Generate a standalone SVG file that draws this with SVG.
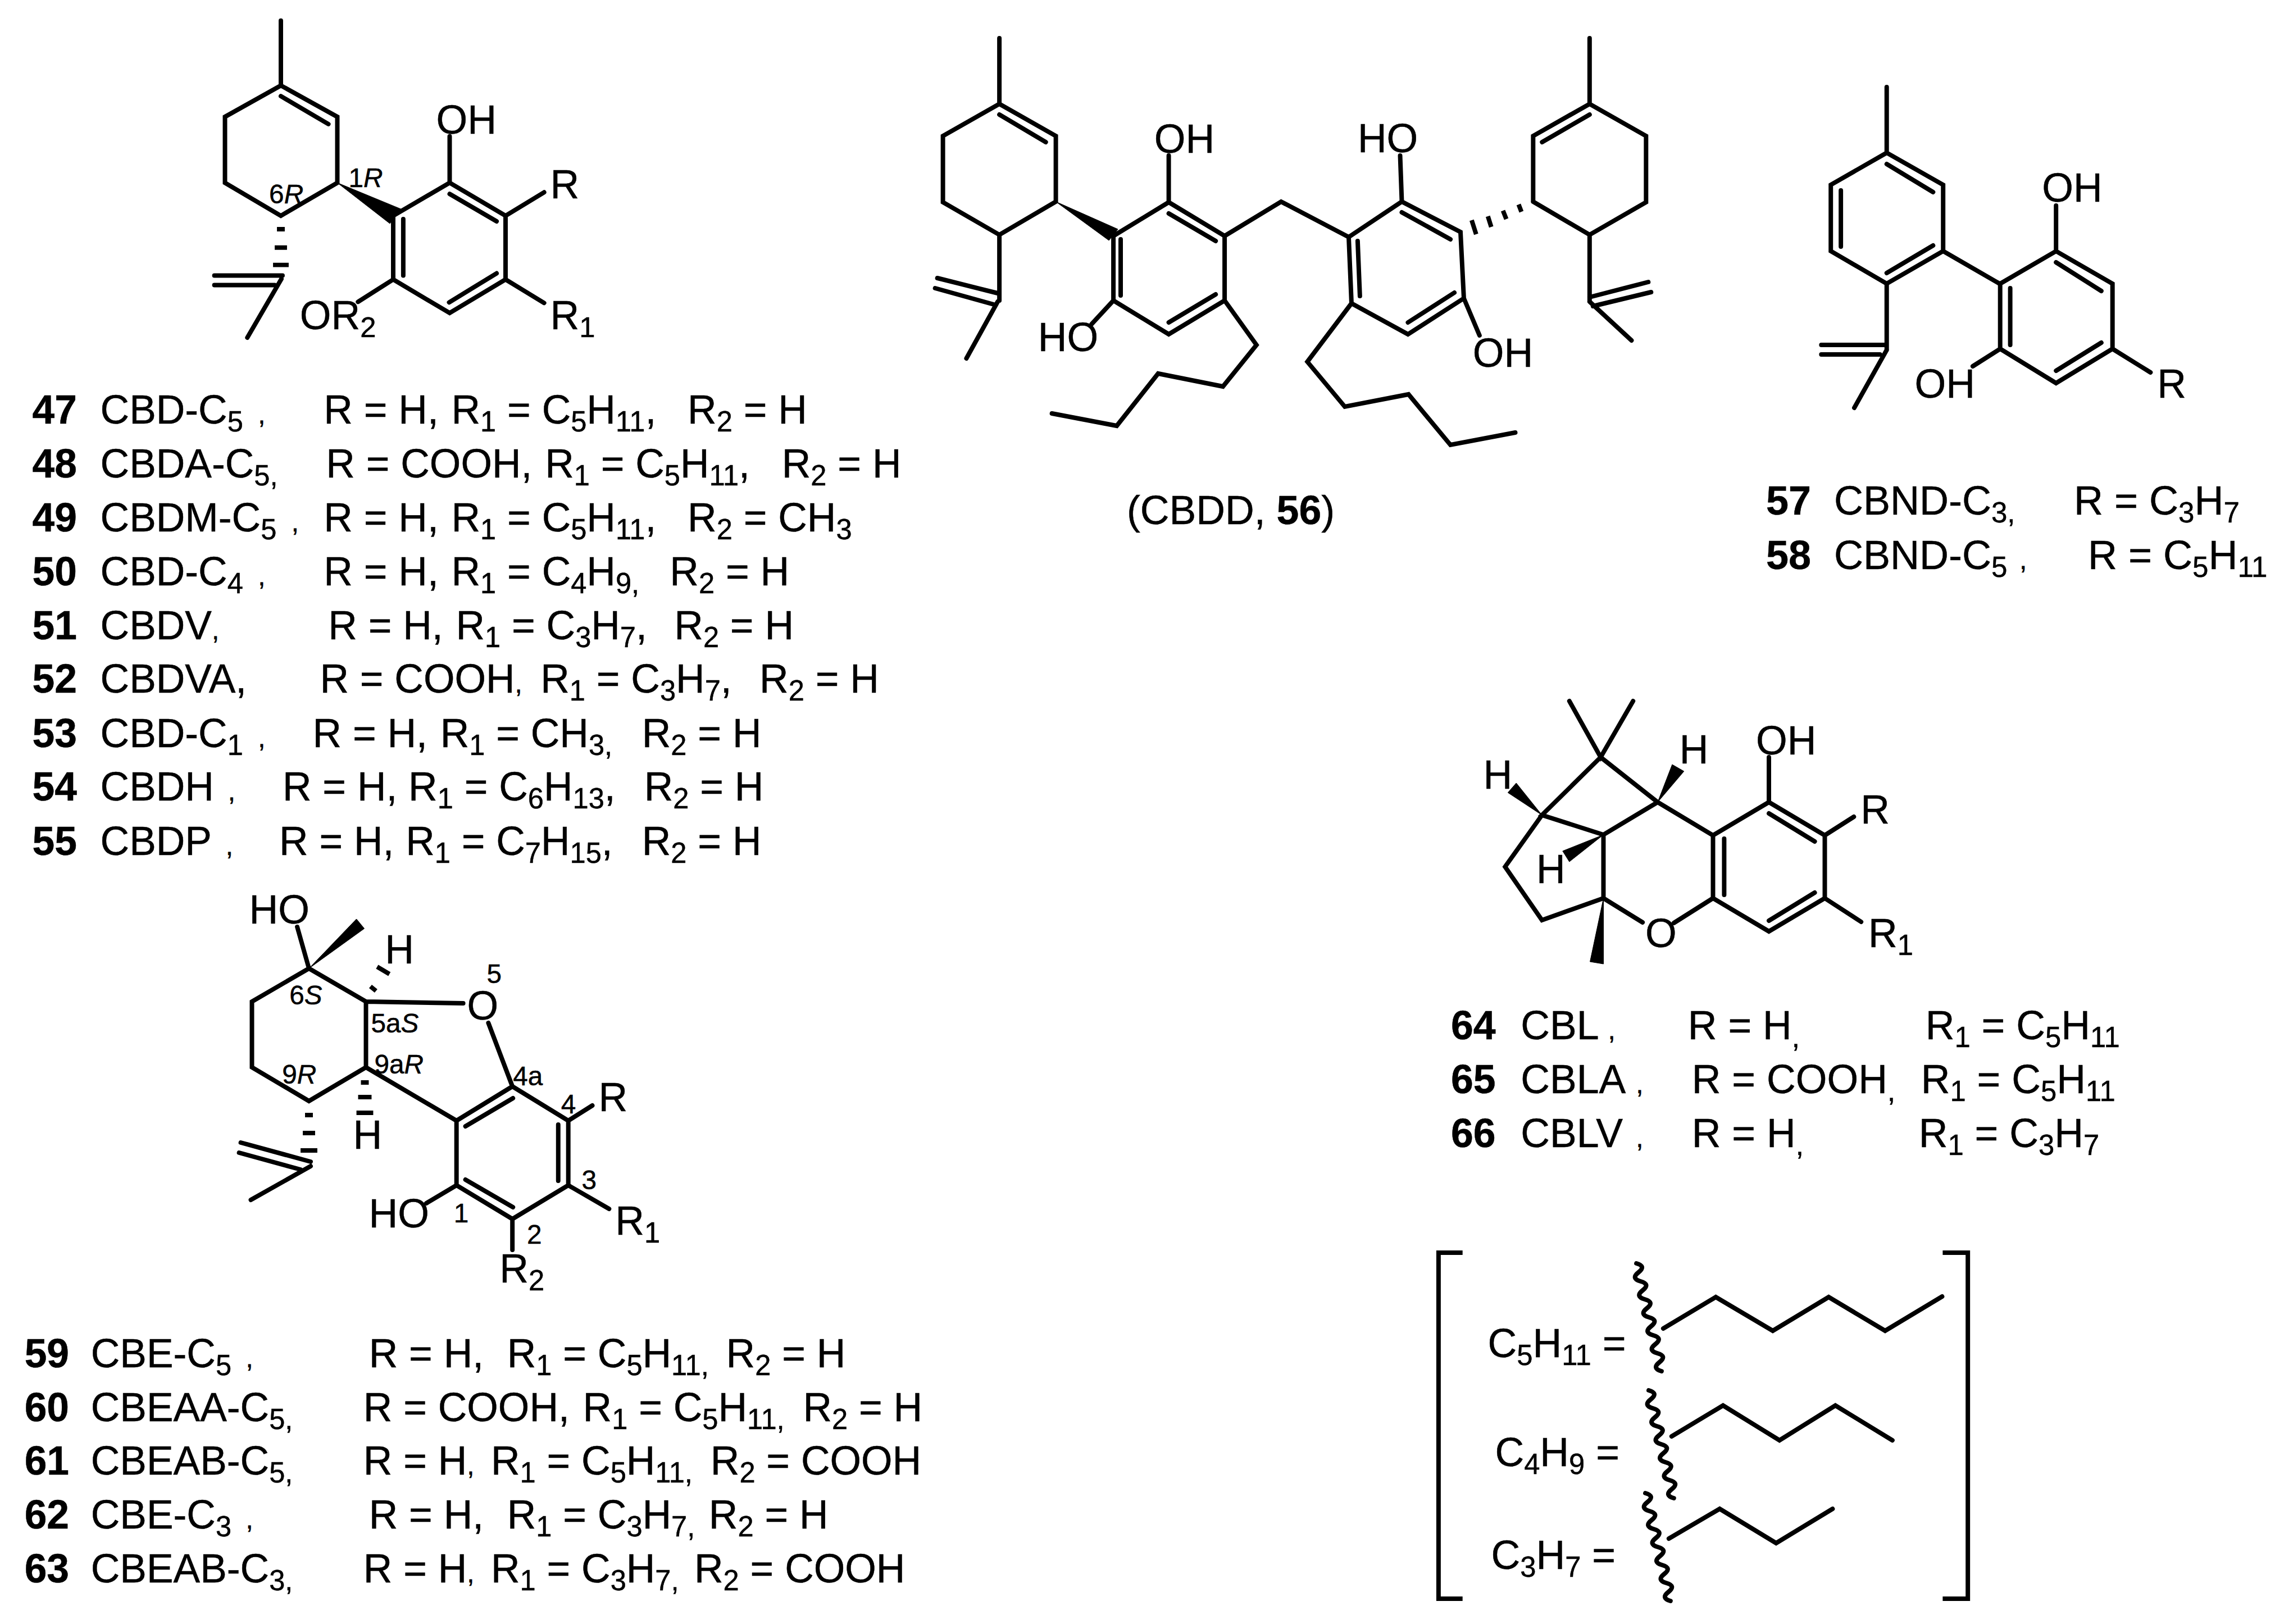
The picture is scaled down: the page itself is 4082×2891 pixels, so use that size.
<svg xmlns="http://www.w3.org/2000/svg" xmlns:xlink="http://www.w3.org/1999/xlink" width="4082" height="2891" viewBox="0 0 4082 2891">
<style>
.b{fill:none;stroke:#000;stroke-width:8;stroke-linecap:round;stroke-linejoin:miter}
.h{fill:none;stroke:#000;stroke-width:8}
.w{fill:#000;stroke:#000;stroke-width:1}
text{font-family:"Liberation Sans",Arial,sans-serif;font-size:72px;fill:#000;stroke:#000;stroke-width:.5}
.n{font-weight:bold}
.s{font-size:51px;baseline-shift:-14px}
.l{font-size:48px}
.i{font-style:italic}
</style>
<defs>
<path id="wave" class="b" d="M0,0q17.9,5 3.75,16q-14.1,11 3.75,16q17.9,5 3.75,16q-14.1,11 3.75,16q17.9,5 3.75,16q-14.1,11 3.75,16q17.9,5 3.75,16q-14.1,11 3.75,16q17.9,5 3.75,16q-14.1,11 3.75,16q17.9,5 3.75,16q-14.1,11 3.75,16"/>
</defs>
<rect width="4082" height="2891" fill="#fff"/>

<g id="cbd-structure" transform="matrix(.995 0 0 .995 1.5 0)">
<path class="b" d="M501,37V153L602,209V327L501,386L401,327V209L501,153M501,172L586,222"/>
<path class="w" d="M602,327L716,374L696,400Z"/>
<path class="b" d="M702,386L803,327L903,386V500L803,560L702,500V386M803,347L887,396M720,392V493M802,541L887,489M803,327V244M903,386L972,344M903,500L972,542M702,500L639,540"/>
<path class="h" d="M494,410H508M490,443H512M487,474H515"/>
<path class="b" d="M382,493H504M382,510H490M502,499L441,604"/>
<text x="779" y="239">OH</text><text x="983" y="355">R</text>
<text x="983" y="589">R<tspan class="s">1</tspan></text>
<text x="535" y="589">OR<tspan class="s">2</tspan></text>
<text class="l" x="622" y="335">1<tspan class="i">R</tspan></text>
<text class="l" x="480" y="364">6<tspan class="i">R</tspan></text>
</g>

<g id="cbd-table" transform="matrix(.992 0 0 1 0 0)">
<text y="754"><tspan class="n" x="58">47</tspan><tspan x="180">CBD-C<tspan class="s">5</tspan></tspan><tspan class="l" x="463">,</tspan><tspan x="581">R = H,</tspan><tspan x="810">R<tspan class="s">1</tspan> = C<tspan class="s">5</tspan>H<tspan class="s">11</tspan>,</tspan><tspan x="1234">R<tspan class="s">2</tspan> = H</tspan></text>
<text y="850"><tspan class="n" x="58">48</tspan><tspan x="180">CBDA-C<tspan class="s">5,</tspan></tspan><tspan x="585">R = COOH,</tspan><tspan x="978">R<tspan class="s">1</tspan> = C<tspan class="s">5</tspan>H<tspan class="s">11</tspan>,</tspan><tspan x="1403">R<tspan class="s">2</tspan> = H</tspan></text>
<text y="946"><tspan class="n" x="58">49</tspan><tspan x="180">CBDM-C<tspan class="s">5</tspan></tspan><tspan class="l" x="523">,</tspan><tspan x="581">R = H,</tspan><tspan x="810">R<tspan class="s">1</tspan> = C<tspan class="s">5</tspan>H<tspan class="s">11</tspan>,</tspan><tspan x="1234">R<tspan class="s">2</tspan> = CH<tspan class="s">3</tspan></tspan></text>
<text y="1042"><tspan class="n" x="58">50</tspan><tspan x="180">CBD-C<tspan class="s">4</tspan></tspan><tspan class="l" x="463">,</tspan><tspan x="581">R = H,</tspan><tspan x="810">R<tspan class="s">1</tspan> = C<tspan class="s">4</tspan>H<tspan class="s">9,</tspan></tspan><tspan x="1202">R<tspan class="s">2</tspan> = H</tspan></text>
<text y="1138"><tspan class="n" x="58">51</tspan><tspan x="180">CBDV<tspan class="l">,</tspan></tspan><tspan x="589">R = H,</tspan><tspan x="818">R<tspan class="s">1</tspan> = C<tspan class="s">3</tspan>H<tspan class="s">7</tspan>,</tspan><tspan x="1210">R<tspan class="s">2</tspan> = H</tspan></text>
<text y="1233"><tspan class="n" x="58">52</tspan><tspan x="180">CBDVA,</tspan><tspan x="574">R = COOH<tspan class="l">,</tspan></tspan><tspan x="970">R<tspan class="s">1</tspan> = C<tspan class="s">3</tspan>H<tspan class="s">7</tspan>,</tspan><tspan x="1363">R<tspan class="s">2</tspan> = H</tspan></text>
<text y="1330"><tspan class="n" x="58">53</tspan><tspan x="180">CBD-C<tspan class="s">1</tspan></tspan><tspan class="l" x="463">,</tspan><tspan x="561">R = H,</tspan><tspan x="790">R<tspan class="s">1</tspan> = CH<tspan class="s">3,</tspan></tspan><tspan x="1152">R<tspan class="s">2</tspan> = H</tspan></text>
<text y="1425"><tspan class="n" x="58">54</tspan><tspan x="180">CBDH</tspan><tspan class="l" x="409">,</tspan><tspan x="507">R = H,</tspan><tspan x="733">R<tspan class="s">1</tspan> = C<tspan class="s">6</tspan>H<tspan class="s">13</tspan>,</tspan><tspan x="1156">R<tspan class="s">2</tspan> = H</tspan></text>
<text y="1522"><tspan class="n" x="58">55</tspan><tspan x="180">CBDP</tspan><tspan class="l" x="405">,</tspan><tspan x="501">R = H,</tspan><tspan x="728">R<tspan class="s">1</tspan> = C<tspan class="s">7</tspan>H<tspan class="s">15</tspan>,</tspan><tspan x="1152">R<tspan class="s">2</tspan> = H</tspan></text>
</g>

<g id="cbdd-structure" transform="matrix(.995 0 0 1 8 0)">
<path class="b" d="M1780,68V185L1881,242V359L1780,418L1679,360V242L1780,185M1780,204L1863,253M1780,418V535M1669,495L1777,522M1665,513L1770,542M1777,537L1721,638"/>
<path class="w" d="M1881,359L1992,408L1976,428Z"/>
<path class="b" d="M1984,420L2083,360L2183,420V535L2083,595L1984,535V420M2083,380L2167,429M1997,426V526M2083,574L2167,524M2083,359V277M1984,535L1945,577M2183,420L2284,359L2405,422M2183,535L2240,614L2180,688L2064,665L1990,758L1874,736"/>
<path class="b" d="M2405,422L2500,359L2605,413L2611,531L2511,595L2410,540L2405,422M2500,378L2587,426M2421,429L2425,527M2511,574L2594,521M2500,359L2497,277M2611,531L2639,597M2410,540L2331,644L2398,724L2512,702L2587,792L2703,770"/>
<path class="h" d="M2625,392L2633,417M2654,385L2660,404M2681,375L2687,390M2709,364L2714,377"/>
<path class="b" d="M2735,359V242L2836,185L2937,242V360L2836,418L2735,359M2836,68V185M2836,204L2751,253M2836,418V535M2836,529L2941,502M2842,545L2946,520M2836,537L2911,606"/>
<text x="2057" y="272">OH</text><text x="1849" y="625">HO</text><text x="2421" y="271">HO</text><text x="2627" y="653">OH</text>
<text x="2008" y="933">(CBDD, <tspan class="n">56</tspan>)</text>
</g>

<g id="cbnd-structure" transform="matrix(.995 0 0 1 15.5 0)">
<path class="b" d="M3360,155V272L3461,329V447L3360,505L3260,447V329L3360,272M3360,292L3443,342M3278,339V439M3443,437L3360,486M3461,447L3562,505"/>
<path class="b" d="M3563,505L3663,447L3764,505V621L3663,682L3563,621V505M3663,467L3744,518M3581,513V614M3663,660L3744,610M3663,447V366M3563,621L3514,652M3764,621L3832,663M3360,505V623M3243,614H3357M3243,631H3348M3360,623L3302,726"/>
<text x="3638" y="359">OH</text><text x="3410" y="708">OH</text><text x="3844" y="708">R</text>
</g>

<g id="cbnd-table" transform="translate(-5 0)">
<text y="916"><tspan class="n" x="3149">57</tspan><tspan x="3270">CBND-C<tspan class="s">3,</tspan></tspan><tspan x="3697">R = C<tspan class="s">3</tspan>H<tspan class="s">7</tspan></tspan></text>
<text y="1013"><tspan class="n" x="3149">58</tspan><tspan x="3270">CBND-C<tspan class="s">5</tspan></tspan><tspan class="l" x="3600">,</tspan><tspan x="3722">R = C<tspan class="s">5</tspan>H<tspan class="s">11</tspan></tspan></text>
</g>

<g id="cbe-structure" transform="matrix(.995 0 0 1 1.75 0)">
<path class="b" d="M551,1724L653,1783V1900L551,1960L449,1900V1783L551,1724M551,1724L530,1650M653,1783L827,1786M872,1821L915,1934M653,1900L815,1995L915,1934L1015,1995V2110L915,2170L815,2110V1995M831,2005L916,1955M997,2002V2102M831,2100L916,2149M1015,1995L1058,1968M1015,2110L1088,2152M915,2170V2225M815,2110L761,2142"/>
<path class="w" d="M551,1724L636,1636L650,1653Z"/>
<path class="h" d="M661,1756L671,1764M673,1721L695,1734M644,1927H658M639,1953H663M636,1981H666M544,1985H558M540,2017H562M536,2048H566"/>
<path class="b" d="M429,2034L554,2068M426,2052L536,2082M554,2076L447,2136"/>
<text x="444" y="1644">HO</text><text x="834" y="1815">O</text><text x="687" y="1715">H</text><text x="630" y="2045">H</text>
<text x="1069" y="1978">R</text><text x="1099" y="2198">R<tspan class="s">1</tspan></text><text x="892" y="2283">R<tspan class="s">2</tspan></text><text x="658" y="2185">HO</text>
<text class="l" x="869" y="1750">5</text>
<text class="l" x="516" y="1788">6<tspan class="i">S</tspan></text>
<text class="l" x="662" y="1838">5a<tspan class="i">S</tspan></text>
<text class="l" x="668" y="1911">9a<tspan class="i">R</tspan></text>
<text class="l" x="503" y="1929">9<tspan class="i">R</tspan></text>
<text class="l" x="916" y="1932">4a</text><text class="l" x="1002" y="1982">4</text><text class="l" x="1039" y="2117">3</text><text class="l" x="941" y="2214">2</text><text class="l" x="810" y="2176">1</text>
</g>

<g id="cbe-table" transform="matrix(.992 0 0 1 0 0)">
<text y="2434"><tspan class="n" x="44">59</tspan><tspan x="163">CBE-C<tspan class="s">5</tspan></tspan><tspan class="l" x="441">,</tspan><tspan x="662">R = H,</tspan><tspan x="910">R<tspan class="s">1</tspan> = C<tspan class="s">5</tspan>H<tspan class="s">11,</tspan></tspan><tspan x="1303">R<tspan class="s">2</tspan> = H</tspan></text>
<text y="2530"><tspan class="n" x="44">60</tspan><tspan x="163">CBEAA-C<tspan class="s">5,</tspan></tspan><tspan x="652">R = COOH,</tspan><tspan x="1046">R<tspan class="s">1</tspan> = C<tspan class="s">5</tspan>H<tspan class="s">11,</tspan></tspan><tspan x="1441">R<tspan class="s">2</tspan> = H</tspan></text>
<text y="2625"><tspan class="n" x="44">61</tspan><tspan x="163">CBEAB-C<tspan class="s">5,</tspan></tspan><tspan x="652">R = H<tspan class="l">,</tspan></tspan><tspan x="881">R<tspan class="s">1</tspan> = C<tspan class="s">5</tspan>H<tspan class="s">11,</tspan></tspan><tspan x="1275">R<tspan class="s">2</tspan> = COOH</tspan></text>
<text y="2721"><tspan class="n" x="44">62</tspan><tspan x="163">CBE-C<tspan class="s">3</tspan></tspan><tspan class="l" x="441">,</tspan><tspan x="662">R = H,</tspan><tspan x="910">R<tspan class="s">1</tspan> = C<tspan class="s">3</tspan>H<tspan class="s">7,</tspan></tspan><tspan x="1272">R<tspan class="s">2</tspan> = H</tspan></text>
<text y="2817"><tspan class="n" x="44">63</tspan><tspan x="163">CBEAB-C<tspan class="s">3,</tspan></tspan><tspan x="652">R = H<tspan class="l">,</tspan></tspan><tspan x="881">R<tspan class="s">1</tspan> = C<tspan class="s">3</tspan>H<tspan class="s">7,</tspan></tspan><tspan x="1246">R<tspan class="s">2</tspan> = COOH</tspan></text>
</g>

<g id="cbl-structure" transform="matrix(.995 0 0 1 12.75 0)">
<path class="b" d="M2795,1248L2851,1348L2909,1248M2851,1348L2746,1451L2856,1486L2953,1428L2851,1348M2746,1451L2680,1543L2746,1638L2856,1599V1486M2953,1428L3052,1487M2856,1599L2926,1642M3052,1599L2982,1643"/>
<path class="b" d="M3052,1487L3152,1428L3252,1487V1599L3152,1658L3052,1599V1487M3152,1448L3234,1498M3072,1493V1593M3152,1639L3234,1589M3152,1428V1348M3252,1487L3304,1454M3252,1599L3317,1641"/>
<path class="w" d="M2856,1599L2832,1712L2856,1716ZM2746,1451L2700,1394L2685,1411ZM2953,1428L2979,1361L3000,1373ZM2856,1486L2783,1515L2795,1534Z"/>
<text x="2931" y="1686">O</text><text x="3129" y="1343">OH</text><text x="3316" y="1466">R</text><text x="3330" y="1686">R<tspan class="s">1</tspan></text>
<text x="2641" y="1404">H</text><text x="2992" y="1359">H</text><text x="2736" y="1572">H</text>
</g>

<g id="cbl-table" transform="matrix(.995 0 0 1 12.8 0)">
<text y="1850"><tspan class="n" x="2583">64</tspan><tspan x="2708">CBL</tspan><tspan class="l" x="2864">,</tspan><tspan x="3007">R = H<tspan class="s">,</tspan></tspan><tspan x="3432">R<tspan class="s">1</tspan> = C<tspan class="s">5</tspan>H<tspan class="s">11</tspan></tspan></text>
<text y="1946"><tspan class="n" x="2583">65</tspan><tspan x="2708">CBLA</tspan><tspan class="l" x="2914">,</tspan><tspan x="3014">R = COOH<tspan class="s">,</tspan></tspan><tspan x="3424">R<tspan class="s">1</tspan> = C<tspan class="s">5</tspan>H<tspan class="s">11</tspan></tspan></text>
<text y="2042"><tspan class="n" x="2583">66</tspan><tspan x="2708">CBLV</tspan><tspan class="l" x="2914">,</tspan><tspan x="3014">R = H<tspan class="s">,</tspan></tspan><tspan x="3420">R<tspan class="s">1</tspan> = C<tspan class="s">3</tspan>H<tspan class="s">7</tspan></tspan></text>
</g>

<g id="alkyl-key" transform="matrix(.995 0 0 1 12.7 0)">
<path class="b" style="stroke-linecap:butt" d="M2604,2230H2561V2846H2604M3463,2230H3508V2846H3463"/>
<use href="#wave" x="2915" y="2249"/>
<use href="#wave" x="2937" y="2475"/>
<use href="#wave" x="2931" y="2658"/>
<path class="b" d="M2963,2365L3057,2309L3159,2369L3259,2309L3360,2369L3462,2308M2978,2557L3070,2502L3171,2564L3271,2502L3373,2564M2973,2739L3064,2686L3165,2747L3266,2686"/>
<text x="2649" y="2416">C<tspan class="s">5</tspan>H<tspan class="s">11</tspan> =</text>
<text x="2662" y="2610">C<tspan class="s">4</tspan>H<tspan class="s">9</tspan> =</text>
<text x="2655" y="2793">C<tspan class="s">3</tspan>H<tspan class="s">7</tspan> =</text>
</g>
</svg>
